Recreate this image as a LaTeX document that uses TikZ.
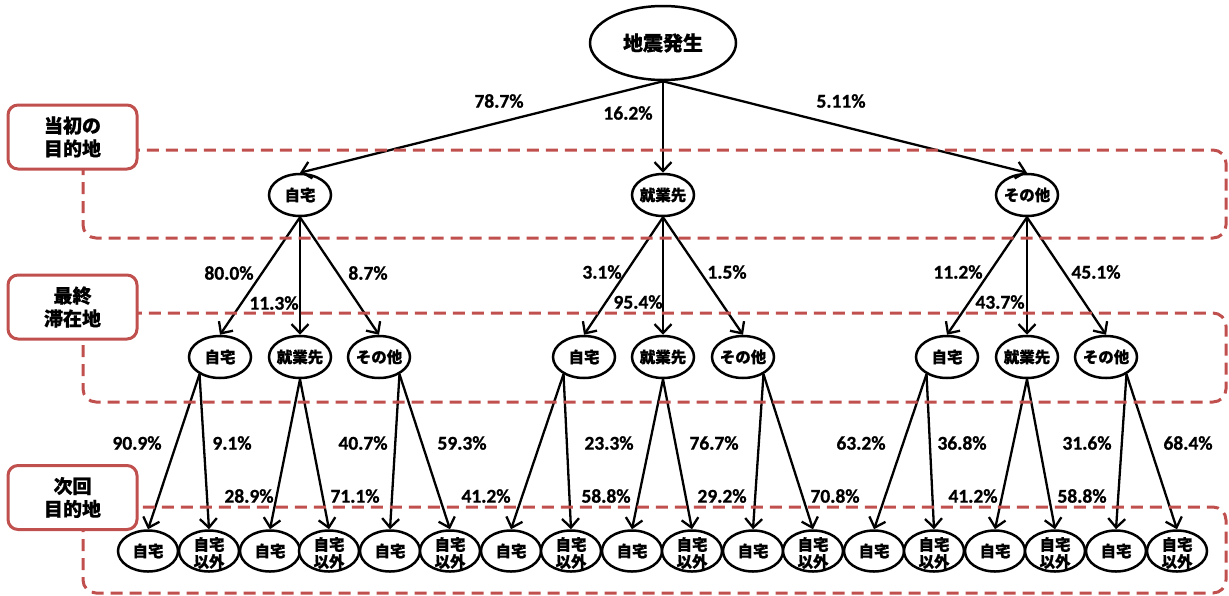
\documentclass[tikz,border=0pt]{standalone}
\usepackage{fontspec}
\newfontfamily\jp{Noto Sans CJK JP}[BoldFeatures={FakeBold=0.6}]
\newfontfamily\pc{Carlito}[BoldFeatures={FakeBold=0.8}]
\usetikzlibrary{shapes.geometric,arrows.meta,calc}
\definecolor{boxred}{HTML}{C0504D}
\begin{document}
\begin{tikzpicture}[x=1pt,y=-1pt,
  ell/.style={ellipse,draw,line width=2.5pt,fill=white,minimum width=62pt,minimum height=42pt,inner sep=0pt},
  bell/.style={ellipse,draw,line width=2.5pt,fill=white,minimum width=60pt,minimum height=41pt,inner sep=0pt},
  rootell/.style={ellipse,draw,line width=2.5pt,fill=white,minimum width=146pt,minimum height=74pt,inner sep=0pt},
  jl/.style={font=\jp\bfseries\fontsize{15.5}{17}\selectfont,inner sep=0pt,align=center},
  rl/.style={font=\jp\bfseries\fontsize{20}{24}\selectfont,inner sep=0pt},
  pct/.style={font=\pc\bfseries\fontsize{19.5}{22}\selectfont,inner sep=0pt},
  sidebox/.style={draw=boxred,line width=3pt,fill=white,rounded corners=10pt,minimum width=129pt,minimum height=64pt,inner sep=0pt,align=center,font=\jp\bfseries\fontsize{19}{23}\selectfont},
  dashline/.style={draw=boxred,line width=3pt,dash pattern=on 12pt off 7pt,rounded corners=13pt},
  arr/.style={line width=2.3pt,-{Straight Barb[length=9pt,width=17pt]}}
]
\useasboundingbox (0,0) rectangle (1229,595);

% root and level 1
\node[rootell,label={[rl]center:地震発生}] (r) at (663,43) {};
\node[ell,label={[jl]center:自宅}] (h) at (300,195) {};
\node[ell,label={[jl]center:就業先}] (w) at (663,195) {};
\node[ell,label={[jl]center:その他}] (o) at (1027,195) {};

% level 2
\node[ell,label={[jl]center:自宅}] (hh) at (220,357) {};
\node[ell,label={[jl]center:就業先}] (hw) at (300,357) {};
\node[ell,label={[jl]center:その他}] (ho) at (379,357) {};
\node[ell,label={[jl]center:自宅}] (wh) at (584,357) {};
\node[ell,label={[jl]center:就業先}] (ww) at (663,357) {};
\node[ell,label={[jl]center:その他}] (wo) at (743,357) {};
\node[ell,label={[jl]center:自宅}] (oh) at (947,357) {};
\node[ell,label={[jl]center:就業先}] (ow) at (1027,357) {};
\node[ell,label={[jl]center:その他}] (oo) at (1106,357) {};

% level 3
\foreach \nm/\xx in {b1/148,b3/270,b5/390,b7/511,b9/632,b11/753,b13/874,b15/995,b17/1116}{
  \node[bell,label={[jl]center:自宅}] (\nm) at (\xx,551) {};
}
\foreach \nm/\xx in {b2/209,b4/329,b6/450,b8/571,b10/692,b12/813,b14/934,b16/1055,b18/1177}{
  \node[bell,label={[jl,yshift=-2pt]center:自宅\\以外}] (\nm) at (\xx,551) {};
}

% arrows root -> level1
\draw[arr] (r.south) -- (h.north);
\draw[arr] (r.south) -- (w.north);
\draw[arr] (r.south) -- (o.north);
% level1 -> level2
\foreach \p/\a/\b/\c in {h/hh/hw/ho,w/wh/ww/wo,o/oh/ow/oo}{
  \draw[arr] (\p.south) -- (\a.north);
  \draw[arr] (\p.south) -- (\b.north);
  \draw[arr] (\p.south) -- (\c.north);
}
% level2 -> level3
\foreach \s/\a/\b in {hh.220/b1/b2,hw.south/b3/b4,ho.320/b5/b6,wh.220/b7/b8,ww.south/b9/b10,wo.320/b11/b12,oh.220/b13/b14,ow.south/b15/b16,oo.320/b17/b18}{
  \draw[arr] (\s) -- (\a.north);
  \draw[arr] (\s) -- (\b.north);
}

% dashed regions
\draw[dashline] (83,150) rectangle (1226,238);
\draw[dashline] (83,313) rectangle (1226,402);
\draw[dashline] (83,507) rectangle (1226,593);

% side boxes
\node[sidebox] (s1) at (72.5,137) {当初の\\目的地};
\node[sidebox] (s2) at (72.5,307) {最終\\滞在地};
\node[sidebox] (s3) at (72.5,497.5) {次回\\目的地};

% percentages
\node[pct] (p1) at (499,101) {78.7\%};
\node[pct] (p2) at (628,113) {16.2\%};
\node[pct] (p3) at (841,101) {5.11\%};

\node[pct] (q1) at (229,273) {80.0\%};
\node[pct] (q2) at (274,303) {11.3\%};
\node[pct] (q3) at (368,273) {8.7\%};
\node[pct] (q4) at (602,272) {3.1\%};
\node[pct] (q5) at (638,302) {95.4\%};
\node[pct] (q6) at (727,272) {1.5\%};
\node[pct] (q7) at (958,272) {11.2\%};
\node[pct] (q8) at (1000,302) {43.7\%};
\node[pct] (q9) at (1096,272) {45.1\%};

\node[pct] (t1) at (137,443) {90.9\%};
\node[pct] (t2) at (232,443) {9.1\%};
\node[pct] (t3) at (363,443) {40.7\%};
\node[pct] (t4) at (462,443) {59.3\%};
\node[pct] (t5) at (609,443) {23.3\%};
\node[pct] (t6) at (714,443) {76.7\%};
\node[pct] (t7) at (861,443) {63.2\%};
\node[pct] (t8) at (962,443) {36.8\%};
\node[pct] (t9) at (1087,443) {31.6\%};
\node[pct] (t10) at (1188,443) {68.4\%};

\node[pct] (u1) at (249,496) {28.9\%};
\node[pct] (u2) at (355,496) {71.1\%};
\node[pct] (u3) at (486,496) {41.2\%};
\node[pct] (u4) at (606,496) {58.8\%};
\node[pct] (u5) at (722,496) {29.2\%};
\node[pct] (u6) at (835,496) {70.8\%};
\node[pct] (u7) at (973,496) {41.2\%};
\node[pct] (u8) at (1082,496) {58.8\%};
\end{tikzpicture}
\end{document}
